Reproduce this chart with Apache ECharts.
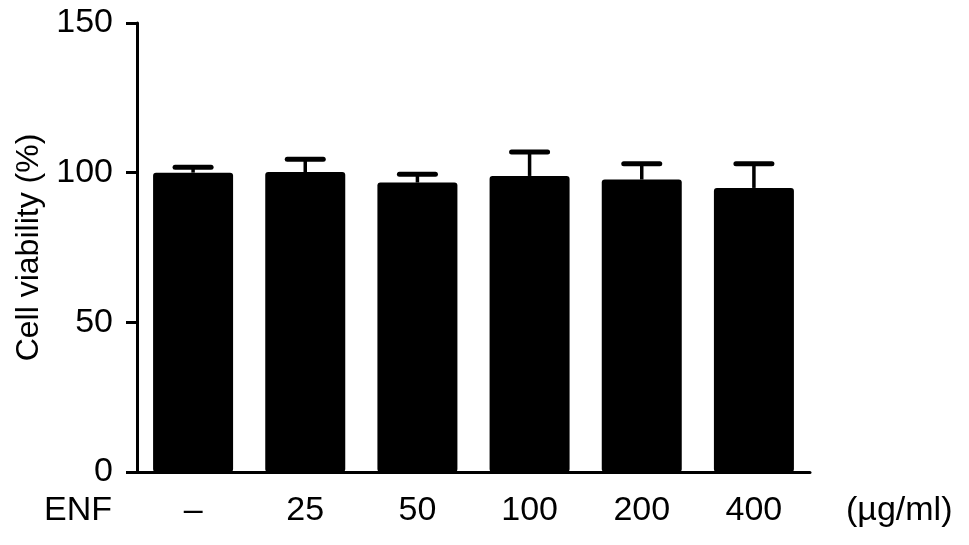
<!DOCTYPE html>
<html>
<head>
<meta charset="utf-8">
<script src="https://cdn.jsdelivr.net/npm/echarts@6/dist/echarts.min.js"></script>
<style>
  html, body { margin: 0; padding: 0; background: #fff; }
  #main { width: 969px; height: 545px; }
</style>
</head>
<body>
<div id="main"></div>
<script>
// doses of ENF (µg/ml), first one is the untreated control
const categories = ['\u2013', '25', '50', '100', '200', '400'];
const viability = [100.0, 100.2, 96.7, 98.9, 97.7, 94.9];
const errors = [1.8, 4.3, 2.8, 8.0, 5.3, 8.1];
const yTicks = [0, 50, 100, 150];

const FONT = '"Liberation Sans", Arial, sans-serif';

const errData = viability.map((v, i) => [i, v, v + errors[i]]);

const chart = echarts.init(document.getElementById('main'));
const option = {
    backgroundColor: '#fff',
    animation: false,
    grid: { left: 137, right: 159, top: 23, bottom: 73 },
    xAxis: {
        type: 'category',
        data: categories,
        axisLine: { lineStyle: { color: '#000', width: 3 } },
        axisTick: { alignWithLabel: true, length: 11, lineStyle: { color: '#000', width: 3 } },
        axisLabel: { color: '#000', fontSize: 34, fontFamily: FONT, margin: 22 }
    },
    yAxis: {
        type: 'value',
        min: yTicks[0],
        max: yTicks[yTicks.length - 1],
        interval: 50,
        name: 'Cell viability (%)',
        nameLocation: 'middle',
        nameGap: 92,
        nameTextStyle: { color: '#000', fontSize: 32, fontFamily: FONT },
        splitLine: { show: false },
        axisLine: { show: true, lineStyle: { color: '#000', width: 3 } },
        axisTick: { show: true, length: 11, lineStyle: { color: '#000', width: 3 } },
        axisLabel: { color: '#000', fontSize: 34, fontFamily: FONT, margin: 24 }
    },
    series: [
        {
            type: 'bar',
            data: viability,
            barWidth: 80,
            itemStyle: { color: '#000', borderRadius: 3 },
            z: 2
        },
        {
            type: 'custom',
            data: errData,
            z: 3,
            renderItem: function (params, api) {
                const x = api.coord([api.value(0), api.value(1)])[0];
                const yLow = api.coord([api.value(0), api.value(1)])[1];
                const yHigh = api.coord([api.value(0), api.value(2)])[1];
                const half = 18;
                return {
                    type: 'group',
                    children: [
                        {
                            type: 'line',
                            shape: { x1: x, y1: yLow, x2: x, y2: yHigh },
                            style: { stroke: '#000', lineWidth: 3.5 }
                        },
                        {
                            type: 'line',
                            shape: { x1: x - half, y1: yHigh, x2: x + half, y2: yHigh },
                            style: { stroke: '#000', lineWidth: 5, lineCap: 'round' }
                        }
                    ]
                };
            }
        }
    ],
    graphic: [
        {
            type: 'text',
            left: 44,
            top: 494,
            style: { text: 'ENF', fill: '#000', font: '34px ' + FONT }
        },
        {
            type: 'text',
            left: 846,
            top: 494,
            style: { text: '(\u00b5g/ml)', fill: '#000', font: '34px ' + FONT }
        }
    ]
};
chart.setOption(option);
</script>
</body>
</html>
